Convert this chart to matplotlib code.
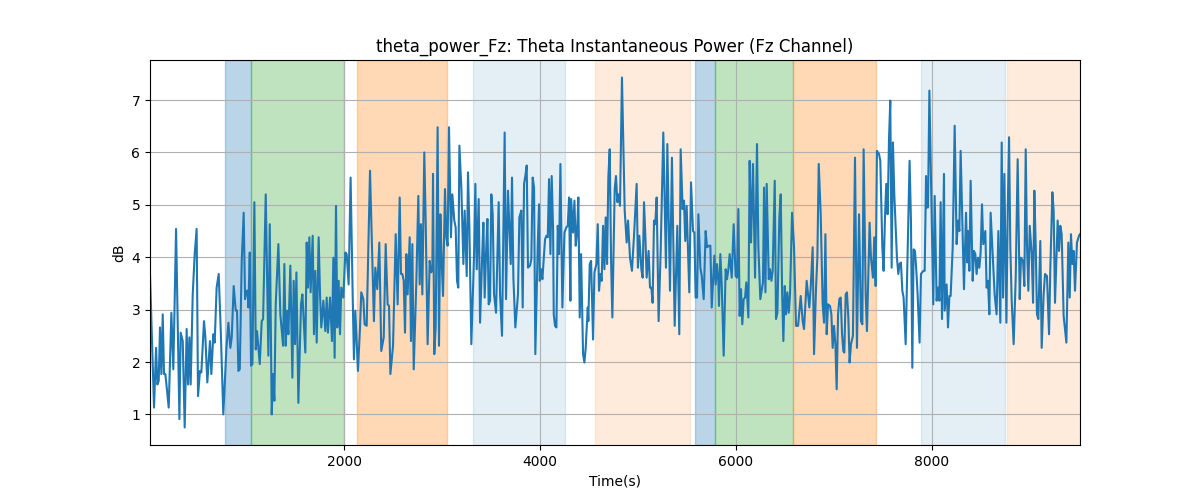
import numpy as np
import matplotlib
matplotlib.use('Agg')
import matplotlib.pyplot as plt

# vertices: time (s) and power (dB)
times = [
    20, 61, 82, 95, 109, 122, 136, 150, 163, 177, 211, 238, 258, 286, 320, 333, 354, 374, 394, 408,
    422, 435, 456, 476, 496, 510, 530, 544, 571, 585, 605, 632, 646, 666, 680, 700, 721, 741, 768,
    800, 820, 840, 854, 874, 895, 908, 922, 936, 956, 976, 990, 1004, 1017, 1024, 1038, 1051, 1065,
    1085, 1099, 1112, 1140, 1160, 1174, 1201, 1228, 1242, 1262, 1276, 1289, 1303, 1330, 1350, 1378,
    1391, 1405, 1418, 1432, 1452, 1473, 1486, 1500, 1514, 1534, 1561, 1575,
    1605, 1619, 1632, 1646, 1659, 1680, 1693, 1707, 1721, 1741, 1755, 1768, 1789, 1809, 1823, 1836,
    1857, 1877, 1891, 1904, 1918, 1931, 1945, 1959, 1972, 1993, 2013, 2027, 2047, 2067, 2088, 2101,
    2115, 2142, 2163, 2176, 2197, 2210, 2231, 2265, 2305, 2319, 2339, 2360, 2380,
    2405, 2425, 2445, 2459, 2473, 2500, 2527, 2547, 2568, 2581, 2595, 2609, 2622, 2636, 2649, 2670,
    2683, 2697, 2711, 2738, 2758, 2772, 2785, 2799, 2819, 2833, 2853, 2874, 2887, 2901, 2908, 2921,
    2935, 2955, 2969, 2983, 2996, 3010, 3030, 3044, 3057, 3071, 3091, 3105, 3125, 3139, 3153, 3166,
    3177, 3197, 3218, 3231, 3252, 3265, 3279, 3299, 3327, 3340, 3354, 3374, 3388, 3408, 3422, 3435,
    3449, 3463, 3476, 3490, 3503, 3517, 3531, 3551, 3578, 3592, 3612, 3639, 3653, 3673, 3701, 3714,
    3728, 3748, 3775, 3789, 3809, 3823, 3837, 3850, 3864, 3877, 3898, 3911, 3925, 3939, 3952,
    3977, 3990, 3997, 4011, 4024, 4051, 4065, 4079, 4092, 4106, 4119, 4133, 4140, 4153, 4167, 4181,
    4194, 4208, 4228, 4249, 4269, 4283, 4296, 4310, 4317, 4337, 4351, 4364, 4378, 4391, 4405, 4419,
    4439, 4453, 4466, 4487, 4493, 4507, 4521, 4541, 4555, 4575, 4589, 4602, 4616, 4629, 4643, 4657,
    4670, 4684, 4697, 4711, 4725, 4738,
    4762, 4775, 4789, 4802, 4816, 4836, 4864, 4884, 4898, 4918, 4938, 4959, 4986, 4999, 5013, 5034,
    5047, 5061, 5074, 5088, 5108, 5122, 5136, 5149, 5163, 5176, 5190, 5210, 5231, 5258, 5285, 5299,
    5326, 5346, 5374, 5401, 5421, 5435, 5455, 5469, 5482, 5496, 5523,
    5541, 5561, 5575, 5588, 5602, 5616, 5636, 5650, 5670, 5690, 5704, 5724, 5738, 5752, 5779, 5792,
    5806, 5820, 5826, 5840, 5854, 5874, 5894, 5908, 5922, 5935, 5956, 5976, 5996, 6010, 6024, 6037,
    6051, 6064, 6078, 6092, 6105, 6126, 6139, 6153, 6173, 6194, 6214, 6228, 6248, 6275,
    6286, 6300, 6313, 6334, 6347, 6361, 6374, 6395, 6408, 6422, 6442, 6456, 6470, 6483, 6497, 6510,
    6524, 6538, 6551, 6572, 6592, 6612, 6633, 6660, 6680, 6694, 6721, 6735, 6748, 6762, 6782, 6796,
    6816, 6830, 6844, 6864, 6884, 6898, 6912, 6925, 6939, 6959, 6973, 6986, 7000, 7014, 7027, 7041,
    7054, 7068, 7082, 7095,
    7105, 7119, 7132, 7146, 7159, 7173, 7193, 7214, 7234, 7255, 7275, 7289, 7302, 7323, 7336, 7363,
    7377, 7397, 7411, 7425, 7438, 7459, 7472, 7493, 7506, 7520, 7533, 7547, 7561, 7574, 7588, 7601,
    7615, 7642, 7656, 7669, 7683, 7697, 7710, 7731, 7771, 7785, 7799, 7812, 7826, 7839, 7853, 7873,
    7887,
    7911, 7925, 7939, 7945, 7959, 7973, 7986, 8013, 8027, 8047, 8061, 8075, 8088, 8102, 8122, 8129,
    8149, 8163, 8177, 8190, 8211, 8231, 8251, 8265, 8279, 8292, 8313, 8326, 8347, 8360, 8367, 8381,
    8394, 8415, 8428, 8442, 8455, 8469, 8483, 8496, 8510, 8523, 8544, 8557, 8571, 8585, 8598, 8619,
    8639, 8659,
    8677, 8697, 8711, 8725, 8738, 8759, 8772, 8786, 8799, 8813, 8833, 8854, 8874, 8895, 8908, 8929,
    8942, 8956, 8969, 8983, 8997, 9017, 9031, 9044, 9058, 9071, 9085, 9105, 9119, 9139, 9153, 9173,
    9194, 9207, 9228, 9241, 9255, 9282, 9296, 9309, 9323, 9343, 9371, 9391, 9405, 9418, 9432, 9445,
    9459, 9479, 9500, 9510,
]

power_db = [
    3.68, 1.13, 2.27, 1.57, 1.64, 2.66, 1.77, 2.91, 1.77, 1.77, 1.13, 2.94, 1.86, 4.54, 0.91, 2.56,
    2.40, 0.75, 2.63, 1.57, 2.47, 1.57, 3.29, 4.06, 4.54, 1.35, 1.83, 1.80, 2.78, 2.47, 1.61, 2.40,
    1.77, 2.53, 2.37, 3.42, 3.68, 2.66, 1.00,
    2.27, 2.75, 2.27, 2.47, 3.45, 2.98, 2.98, 1.83, 1.86, 3.93, 4.85, 3.20, 3.36, 3.36, 3.04, 4.09,
    1.93, 1.96, 5.05, 2.24, 2.59, 1.96, 2.78, 2.82, 5.20, 2.12, 4.63, 1.00, 1.77, 1.26, 3.10, 4.25,
    2.91, 2.31, 3.87, 2.31, 2.98, 2.53, 3.84, 1.70, 3.55, 2.34, 3.71, 1.22, 3.10, 3.29,
    2.18, 4.28, 3.42, 4.38, 3.33, 4.41, 2.53, 3.74, 2.37, 4.38, 3.29, 2.66, 3.17, 2.59, 3.23, 2.56,
    3.23, 2.40, 3.99, 2.08, 4.98, 2.66, 3.55, 2.53, 3.42, 3.23, 4.09, 4.06, 3.48, 5.52, 3.29, 2.05,
    2.98, 1.83, 2.66, 3.33, 3.20, 2.72, 2.69, 5.65, 2.78, 3.80, 3.39, 4.28, 2.21,
    2.47, 4.25, 3.10, 3.07, 1.77, 2.31, 4.44, 3.10, 5.14, 3.68, 3.68, 3.55, 2.56, 4.06, 3.29, 4.38,
    2.40, 4.25, 1.86, 3.55, 5.17, 3.48, 4.63, 3.29, 6.00, 4.70, 2.34, 3.93, 3.71, 3.74, 5.59, 2.15,
    2.66, 6.48, 2.31, 4.82, 3.93, 3.26, 5.30, 4.38, 4.22, 6.48, 4.38, 5.20, 4.70, 4.57, 3.55, 3.42,
    6.13, 5.33, 3.87, 4.89, 3.64, 5.62, 4.57, 2.34, 4.06, 5.40, 3.77, 5.11, 2.75, 3.93, 4.66, 3.23,
    4.06, 4.73, 3.10, 3.17, 5.20, 4.82, 3.29, 2.94, 5.05, 3.29, 2.50, 6.38, 3.20, 5.27, 3.87, 5.52,
    3.61, 2.66, 3.29, 4.76, 4.89, 3.04, 5.40, 5.55, 5.75, 3.80, 3.84, 3.96, 5.52, 5.33, 2.15,
    4.25, 5.01, 3.55, 3.77, 3.58, 4.34, 4.41, 4.38, 5.49, 4.06, 5.55, 4.54, 2.91, 2.69, 2.66, 4.60,
    4.06, 5.78, 3.04, 4.47, 4.57, 4.60, 5.14, 3.17, 5.11, 4.47, 5.08, 4.22, 4.47, 5.14, 2.85, 4.06,
    2.15, 1.99, 2.27, 3.04, 2.78, 3.87, 3.93, 2.43, 3.71, 3.87, 4.63, 3.36, 3.68, 3.55, 4.60, 3.77,
    4.76, 3.87, 5.52, 6.06, 3.93, 2.85,
    5.30, 5.55, 5.05, 5.20, 4.98, 7.43, 4.89, 4.28, 4.70, 3.99, 3.74, 4.41, 5.40, 3.80, 4.41, 3.77,
    3.61, 5.05, 4.44, 3.61, 4.12, 3.42, 3.42, 3.13, 4.70, 4.63, 5.14, 2.78, 4.12, 6.38, 3.80, 6.16,
    3.36, 5.90, 2.69, 4.60, 2.53, 6.06, 4.92, 5.08, 4.31, 4.98, 3.33,
    5.43, 4.50, 4.47, 3.23, 3.23, 4.82, 3.80, 3.64, 3.20, 4.50, 4.19, 4.22, 4.22, 3.04, 4.03, 3.48,
    3.87, 3.52, 3.07, 4.06, 3.48, 2.12, 3.77, 3.58, 3.77, 4.06, 3.61, 4.63, 3.64, 3.61, 4.92, 2.88,
    3.39, 2.72, 3.20, 3.23, 3.52, 2.85, 5.84, 4.28, 5.78, 3.61, 6.16, 4.19, 3.20, 3.52,
    5.33, 3.33, 5.40, 3.58, 3.77, 3.55, 3.74, 5.46, 2.82, 2.94, 4.76, 5.20, 3.36, 2.40, 3.45, 2.91,
    3.33, 2.94, 3.29, 4.85, 4.19, 2.69, 2.69, 3.26, 2.78, 2.63, 3.55, 3.29, 3.04, 3.42, 4.19, 2.15,
    3.39, 3.99, 5.78, 4.82, 3.10, 2.75, 4.44, 2.53, 3.10, 3.07, 2.91, 2.27, 2.69, 2.34, 1.48, 2.91,
    3.20, 3.23, 2.53, 2.21,
    2.18, 3.29, 3.33, 2.85, 1.99, 2.34, 2.50, 5.90, 2.27, 4.82, 2.78, 2.72, 6.06, 3.29, 2.59, 4.66,
    3.99, 3.61, 4.38, 3.45, 6.03, 5.97, 5.84, 4.19, 3.74, 4.76, 5.40, 4.82, 6.26, 6.99, 3.80, 6.19,
    5.20, 3.99, 3.68, 3.87, 3.90, 3.36, 3.23, 2.34, 5.84, 4.70, 1.89, 4.15, 4.12, 3.77, 3.29, 2.37,
    3.68,
    3.74, 3.74, 5.55, 4.95, 4.95, 7.18, 5.84, 3.10, 5.17, 3.17, 3.42, 3.17, 5.05, 2.82, 5.59, 2.98,
    3.48, 2.66, 3.26, 3.26, 4.19, 6.51, 4.25, 4.70, 4.50, 6.03, 4.44, 3.39, 4.85, 3.90, 4.50, 3.74,
    5.46, 3.55, 4.12, 4.06, 3.68, 3.99, 3.80, 4.09, 5.01, 4.25, 4.50, 3.42, 3.55, 2.91, 4.85, 4.06,
    3.29, 2.91,
    4.50, 2.75, 6.19, 3.23, 5.59, 2.75, 4.82, 6.29, 4.19, 3.17, 2.34, 3.61, 5.87, 3.20, 3.99, 3.93,
    3.45, 6.06, 4.22, 3.36, 4.60, 4.06, 3.13, 5.27, 4.22, 2.91, 2.82, 4.31, 2.27, 3.29, 3.68, 3.64,
    2.53, 3.77, 5.24, 4.89, 3.13, 4.70, 4.12, 4.60, 4.44, 2.88, 2.37, 4.28, 3.23, 4.44, 3.87, 4.12,
    3.36, 4.28, 4.41, 4.44,
]

# shaded task blocks: start, end, colour, alpha
block_start = [786, 1051, 2133, 3316, 4561, 5582, 5786, 6582, 7888, 8765]
block_end = [1051, 2000, 3051, 4255, 5531, 5786, 6582, 7429, 8745, 9510]
block_color = ['tab:blue', 'tab:green', 'tab:orange', 'tab:blue', 'tab:orange',
               'tab:blue', 'tab:green', 'tab:orange', 'tab:blue', 'tab:orange']
block_alpha = [0.3, 0.3, 0.3, 0.12, 0.15, 0.3, 0.3, 0.3, 0.12, 0.15]


def plot_power(t, y, filename):
    fig, ax = plt.subplots(figsize=(12, 5), dpi=100)

    for s, e, c, a in zip(block_start, block_end, block_color, block_alpha):
        ax.axvspan(s, e, color=c, alpha=a)

    ax.plot(t, y, color='tab:blue')
    ax.set_xlim(t[0], t[-1])
    ax.grid(True)
    ax.set_title('theta_power_Fz: Theta Instantaneous Power (Fz Channel)')
    ax.set_xlabel('Time(s)')
    ax.set_ylabel('dB')

    fig.savefig(filename)
    plt.close(fig)


print(len(times), len(power_db))
plot_power(np.array(times), np.array(power_db), 'out.png')
